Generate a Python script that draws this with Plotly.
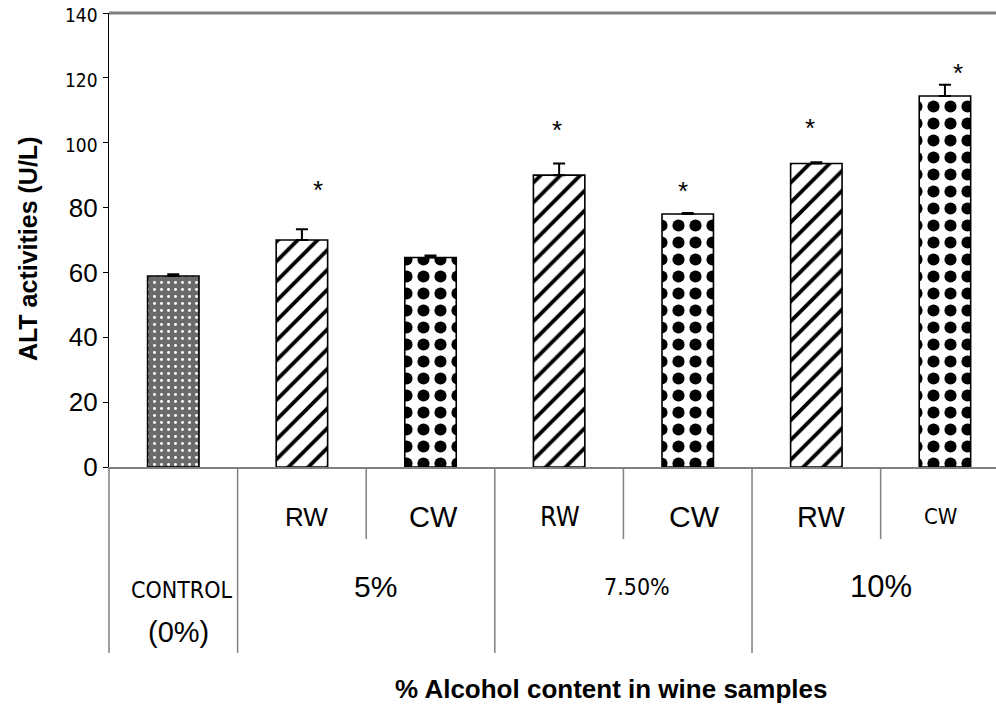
import plotly.graph_objects as go

# ---------------- data ----------------
categories = ["CONTROL (0%)", "5% RW", "5% CW", "7.50% RW", "7.50% CW", "10% RW", "10% CW"]
wine_type = ["CONTROL", "RW", "CW", "RW", "CW", "RW", "CW"]
alt_values = [58.9, 70.0, 64.6, 90.0, 78.0, 93.6, 114.4]
alt_errors = [0.5, 3.3, 0.6, 3.6, 0.3, 0.4, 3.5]
significant = [False, True, False, True, True, True, True]

y_tick_values = [0, 20, 40, 60, 80, 100, 120, 140]
y_tick_labels = ["0", "20", "40", "60", "80", "100", "120", "140"]

sub_labels = ["RW", "CW", "RW", "CW", "RW", "CW"]          # under bars 1..6
group_labels = ["5%", "7.50%", "10%"]                         # groups of two bars
control_label = ["CONTROL", "(0%)"]

y_title = "ALT activities (U/L)"
x_title = "% Alcohol content in wine samples"

# ---------------- styles ----------------
ARIAL = "Arial, Liberation Sans, sans-serif"
NARROW = "DejaVu Sans Condensed, Liberation Sans Narrow, sans-serif"
GRAY = "#808080"

pattern_style = {
    "CONTROL": dict(shape=".", fg="white", bg="#6a6a6a", size=7, solidity=0.14),
    "RW": dict(shape="/", fg="black", bg="white", size=14, solidity=0.27),
    "CW": dict(shape=".", fg="black", bg="white", size=17, solidity=0.40),
}

fig = go.Figure()
fig.add_trace(go.Bar(
    x=categories,
    y=alt_values,
    width=0.4,
    marker=dict(
        color="white",
        line=dict(color="black", width=1.6),
        pattern=dict(
            shape=[pattern_style[t]["shape"] for t in wine_type],
            fgcolor=[pattern_style[t]["fg"] for t in wine_type],
            bgcolor=[pattern_style[t]["bg"] for t in wine_type],
            size=[pattern_style[t]["size"] for t in wine_type],
            solidity=[pattern_style[t]["solidity"] for t in wine_type],
            fillmode="replace",
        ),
    ),
    error_y=dict(type="data", symmetric=False, array=alt_errors,
                 arrayminus=[0] * len(alt_errors),
                 color="black", thickness=2, width=6),
    showlegend=False,
))

# y tick labels: small condensed font for 100-140, larger Arial for the rest
tick_text = []
for v, lab in zip(y_tick_values, y_tick_labels):
    if v >= 100:
        tick_text.append(f'<span style="font-family:DejaVu Sans Condensed;font-size:19px">{lab}</span>')
    else:
        tick_text.append(lab)

fig.update_layout(
    width=996, height=706,
    margin=dict(l=109, r=0, t=13, b=239, autoexpand=False),
    paper_bgcolor="white", plot_bgcolor="white",
    font=dict(family=ARIAL, color="black"),
    xaxis=dict(
        type="category", range=[-0.5, 6.397], automargin=False,
        showticklabels=False, ticks="", showgrid=False, zeroline=False,
        showline=True, linecolor=GRAY, linewidth=1.6,
    ),
    yaxis=dict(
        range=[0, 140], tickvals=y_tick_values, ticktext=tick_text,
        tickfont=dict(family=ARIAL, size=26, color="black"),
        ticks="outside", ticklen=5, tickwidth=1.2, tickcolor="black",
        ticklabeloverflow="allow", automargin=False,
        showline=True, linecolor="black", linewidth=1.4,
        showgrid=False, zeroline=False,
    ),
)

shapes = []
# top frame line
shapes.append(dict(type="line", xref="paper", yref="paper", x0=0, x1=1, y0=1, y1=1,
                   line=dict(color=GRAY, width=3)))
# table lines under the axis
long_bottom = -0.4097
short_bottom = -0.1586
shapes.append(dict(type="line", xref="paper", yref="paper", x0=0, x1=0, y0=0, y1=long_bottom,
                   line=dict(color=GRAY, width=1.5)))
for xb in [0.5, 2.5, 4.5]:
    shapes.append(dict(type="line", xref="x", yref="paper", x0=xb, x1=xb, y0=0, y1=long_bottom,
                       line=dict(color=GRAY, width=1.5)))
for xb in [1.5, 3.5, 5.5]:
    shapes.append(dict(type="line", xref="x", yref="paper", x0=xb, x1=xb, y0=0, y1=short_bottom,
                       line=dict(color=GRAY, width=1.5)))
fig.update_layout(shapes=shapes)

ann = []
# significance asterisks
star_dx = [0, 0.125, 0, -0.016, -0.037, -0.05, 0.10]
star_gap = [0, 13.0, 0, 11.2, 7.8, 11.5, 4.4]
for i, (v, e, s) in enumerate(zip(alt_values, alt_errors, significant)):
    if s:
        ann.append(dict(x=i + star_dx[i], y=v + e + star_gap[i], xref="x", yref="y",
                        text="*", showarrow=False, yanchor="middle", yshift=-3,
                        font=dict(family=ARIAL, size=26, color="black")))

# sub labels (RW / CW)
sub_fonts = [(ARIAL, 26), (ARIAL, 29), (NARROW, 27), (ARIAL, 30), (ARIAL, 29), (NARROW, 22)]
sub_dx = [5, 3, 1, 7, 5, -4]
for k, lab in enumerate(sub_labels):
    fam, sz = sub_fonts[k]
    ann.append(dict(x=k + 1, y=-0.110, xref="x", yref="paper", text=lab, showarrow=False,
                    xshift=sub_dx[k], yanchor="middle",
                    font=dict(family=fam, size=sz, color="black")))

# group labels
group_x = [1.5, 3.5, 5.5]
group_dx = [9, 14, 0]
group_fonts = [(ARIAL, 30), (NARROW, 23), (ARIAL, 31)]
for k, lab in enumerate(group_labels):
    fam, sz = group_fonts[k]
    ann.append(dict(x=group_x[k], y=-0.264, xref="x", yref="paper", text=lab, showarrow=False,
                    xshift=group_dx[k], yanchor="middle",
                    font=dict(family=fam, size=sz, color="black")))

# control label (two lines)
ann.append(dict(x=0, y=-0.271, xref="x", yref="paper", text=control_label[0], showarrow=False,
                xshift=9, yanchor="middle", font=dict(family=NARROW, size=23, color="black")))
ann.append(dict(x=0, y=-0.363, xref="x", yref="paper", text=control_label[1], showarrow=False,
                xshift=5, yanchor="middle", font=dict(family=ARIAL, size=29, color="black")))

# axis titles
ann.append(dict(x=-0.0913, y=0.480, xref="paper", yref="paper", text=f"<b>{y_title}</b>",
                textangle=-90, showarrow=False, xanchor="center", yanchor="middle",
                font=dict(family=ARIAL, size=25, color="black")))
ann.append(dict(x=0.566, y=-0.489, xref="paper", yref="paper", text=f"<b>{x_title}</b>",
                showarrow=False, xanchor="center", yanchor="middle",
                font=dict(family=ARIAL, size=26, color="black")))

fig.update_layout(annotations=ann)
# remove the default 8px page margin so the figure fills the window exactly
fig.write_html("out.html", config={"displayModeBar": False},
               post_script="document.body.style.margin='0px';")
